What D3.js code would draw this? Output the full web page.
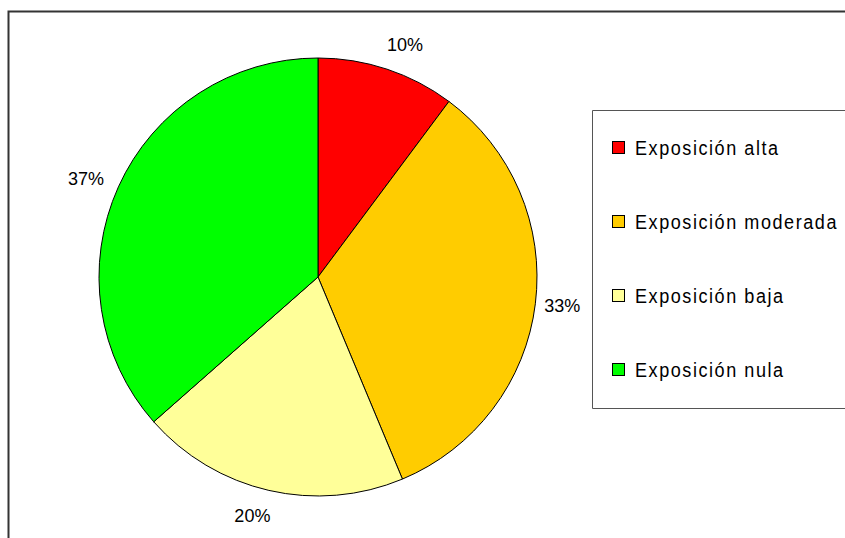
<!DOCTYPE html>
<html><head><meta charset="utf-8">
<script src="https://cdn.jsdelivr.net/npm/d3@7"></script>
<style>body{margin:0;background:#fff;}svg{display:block;}</style>
</head><body>
<script>
const categories = ["Exposición alta","Exposición moderada","Exposición baja","Exposición nula"];
const values = [10.2, 33.5, 19.8, 36.5];
const labels = ["10%","33%","20%","37%"];
const colors = ["#FF0000","#FFCC00","#FFFF99","#00FF00"];

const W = 845, H = 538;
const svg = d3.select("body").append("svg").attr("width", W).attr("height", H);
svg.append("rect").attr("width", W).attr("height", H).attr("fill", "#fff");
// outer border
svg.append("path").attr("d", `M8.5,${H+5} L8.5,11.5 L${W+5},11.5`).attr("fill","none").attr("stroke","#333").attr("stroke-width",2);

const cx = 318, cy = 277, r = 219;
const pie = d3.pie().sort(null).value(d => d)(values);
const arc = d3.arc().innerRadius(0).outerRadius(r);
const g = svg.append("g").attr("transform", `translate(${cx},${cy})`);
g.selectAll("path").data(pie).join("path")
  .attr("d", arc).attr("fill", (d,i) => colors[i]).attr("stroke", "#000").attr("stroke-width", 1);

const labelArc = d3.arc().innerRadius(r + 29).outerRadius(r + 29);
const nudge = [[9,3],[-2,-2],[-10,-3],[-6,4]];
g.selectAll("text").data(pie).join("text")
  .attr("transform", (d,i) => { const c = labelArc.centroid(d); return `translate(${c[0]+nudge[i][0]},${c[1]+nudge[i][1]})`; })
  .attr("text-anchor","middle").attr("dy","0.35em")
  .attr("font-family","Liberation Sans, Arial, sans-serif").attr("font-size",18).attr("fill","#000")
  .text((d,i) => labels[i]);

// legend
const lg = svg.append("g");
lg.append("path").attr("d", `M${W+5},110.5 L592.5,110.5 L592.5,408.5 L${W+5},408.5`).attr("fill","#fff").attr("stroke","#555").attr("stroke-width",1);
const rowY = d3.scalePoint().domain(categories).range([148, 370]);
categories.forEach((c,i) => {
  const y = rowY(c);
  lg.append("rect").attr("x", 612.5).attr("y", y - 6.5).attr("width", 12).attr("height", 12)
    .attr("fill", colors[i]).attr("stroke","#000").attr("stroke-width",1);
  lg.append("text").attr("transform", `translate(635,${y}) scale(0.86,1)`).attr("dy","0.35em")
    .attr("font-family","Liberation Sans, Arial, sans-serif").attr("font-size",21)
    .attr("letter-spacing", 1.8).attr("fill","#000").text(c);
});
</script>
</body></html>
